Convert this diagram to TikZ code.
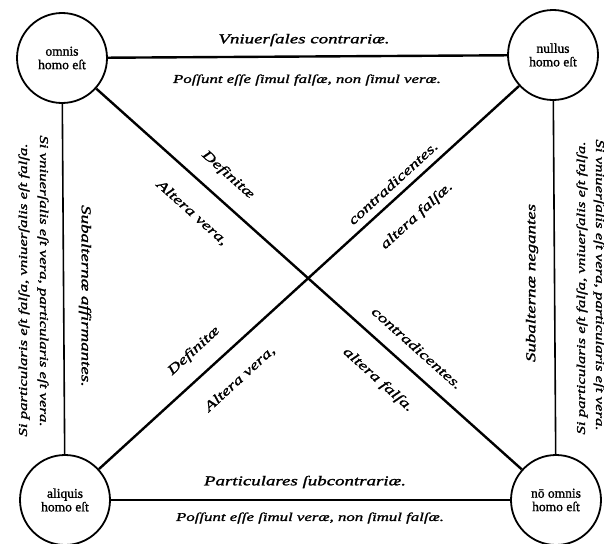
\documentclass[tikz,border=0pt]{standalone}
\usepackage{fontspec}
\setmainfont{Liberation Serif}[FakeBold=1.2]
\newfontfamily\oldit{Liberation Serif}[FakeStretch=1.4,FakeBold=1.5]
\begin{document}
\begin{tikzpicture}[x=1pt,y=-1pt,
  term/.style={circle, draw, line width=1.8pt, minimum size=90pt, inner sep=0pt,
    align=center, font=\fontsize{13.5}{13.5}\selectfont},
  rel/.style={line width=2.4pt},
  sub/.style={line width=1.6pt},
  lab/.style={font=\oldit\itshape\fontsize{12}{12}\selectfont, inner sep=0pt},
  biglab/.style={font=\oldit\itshape\fontsize{13.5}{13.5}\selectfont, inner sep=0pt}]
\fill[white] (0,0) rectangle (604,543);
\useasboundingbox (0,0) rectangle (604,543);

% terms
\node[term] (A) at (62,58) {omnis\\homo eſt};
\node[term] (E) at (553,55) {nullus\\homo eſt};
\node[term] (I) at (65,500) {aliquis\\homo eſt};
\node[term] (O) at (556,500) {nō omnis\\homo eſt};

% relations
\draw[rel] (A) -- (E);
\draw[rel] (I) -- (O);
\draw[sub] (A) -- (I);
\draw[sub] (E) -- (O);
\draw[rel] (A) -- (O);
\draw[rel] (E) -- (I);

% top and bottom labels
\node[biglab] (t1) at (304,40) {Vniuerſales contrariæ.};
\node[lab] (t2) at (307,80) {Poſſunt eſſe ſimul falſæ, non ſimul veræ.};
\node[biglab] (b1) at (305,482) {Particulares ſubcontrariæ.};
\node[lab] (b2) at (310,518) {Poſſunt eſſe ſimul veræ, non ſimul falſæ.};

% left side
\node[biglab, rotate=-90] (l1) at (85,296) {Subalternæ affirmantes.};
\node[lab, rotate=-90] (l2) at (43,281) {Si vniuerſalis eſt vera, particularis eſt vera.};
\node[lab, rotate=90] (l3) at (24,290) {Si particularis eſt falſa, vniuerſalis eſt falſa.};

% right side
\node[biglab, rotate=90] (r1) at (532,283) {Subalternæ negantes};
\node[lab, rotate=90] (r2) at (582,288) {Si particularis eſt falſa, vniuerſalis eſt falſa.};
\node[lab, rotate=-90] (r3) at (599,285) {Si vniuerſalis eſt vera, particularis eſt vera.};

% diagonal labels
\node[biglab, rotate=-41.8] (d1) at (228,175) {Definitæ};
\node[biglab, rotate=-41.8] (d2) at (192,213) {Altera vera,};
\node[biglab, rotate=42.4] (d3) at (393,183) {contradicentes.};
\node[biglab, rotate=42.4] (d4) at (417,216) {altera falſæ.};
\node[biglab, rotate=42.4] (d5) at (194,351) {Definitæ};
\node[biglab, rotate=42.4] (d6) at (240,379) {Altera vera,};
\node[biglab, rotate=-41.8] (d7) at (417,348) {contradicentes.};
\node[biglab, rotate=-41.8] (d8) at (378,380) {altera falſa.};
\end{tikzpicture}
\end{document}
